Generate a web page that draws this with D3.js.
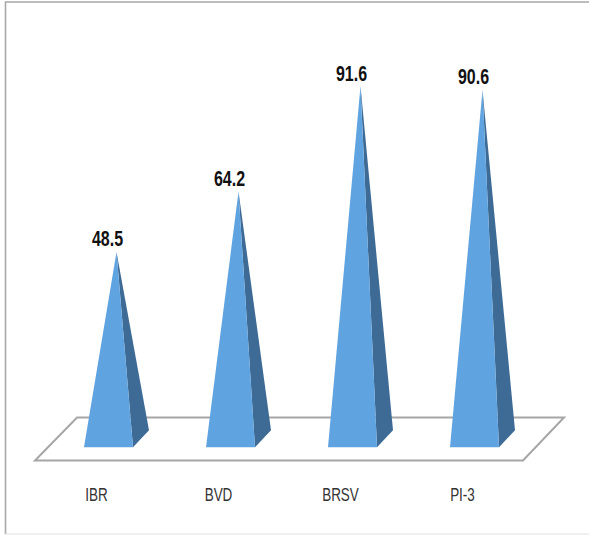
<!DOCTYPE html>
<html>
<head>
<meta charset="utf-8">
<script src="https://cdn.jsdelivr.net/npm/d3@7"></script>
<style>
html, body { margin: 0; padding: 0; background: #fff; }
svg { display: block; }
.tick text { font-family: "Liberation Sans", sans-serif; font-size: 19px; fill: #333; }
.value { font-family: "Liberation Sans", sans-serif; font-size: 22.5px; font-weight: bold; fill: #111; }
</style>
</head>
<body>
<svg></svg>
<script>
// chart data
var categories = ["IBR", "BVD", "BRSV", "PI-3"];
var values = [48.5, 64.2, 91.6, 90.6];

// basic settings
var svgWidth = 589, svgHeight = 535;
var base = 438.7, depthY = 8.5;

var svg = d3.select("svg")
	.attr("width", svgWidth)
	.attr("height", svgHeight);

// x positions of the pyramid tips
var x = d3.scalePoint()
	.domain(categories)
	.range([116.5, 482.5]);

var y = d3.scaleLinear()
	.domain([0, 100])
	.range([base, base - 385]);

// outer frame
svg.append("path")
	.attr("d", "M589,2H5.5V534")
	.attr("fill", "none")
	.attr("stroke", "#a8a8a8")
	.attr("stroke-width", 1.6);
svg.append("path")
	.attr("d", "M5.5,534H589")
	.attr("fill", "none")
	.attr("stroke", "#e2e2e2")
	.attr("stroke-width", 1.2);

// floor
var floor = [[35, 460.5], [523, 460.5], [564, 417.5], [77, 417.5]];
svg.append("polygon")
	.attr("points", floor.join(" "))
	.attr("fill", "#fff")
	.attr("stroke", "#a6a6a6")
	.attr("stroke-width", 2);

var bar = svg.selectAll("g.bar")
	.data(categories)
	.enter()
	.append("g")
	.attr("class", "bar");

// shaded right side
bar.append("polygon")
	.attr("fill", "#3e6b95")
	.attr("points", function(d, i) {
		var cx = x(d), top = y(values[i]);
		return [[cx, top], [cx + 32.5, base - depthY], [cx + 16.5, base + depthY]].join(" ");
	});

// front side
bar.append("polygon")
	.attr("fill", "#5fa3e0")
	.attr("points", function(d, i) {
		var cx = x(d), top = y(values[i]);
		return [[cx, top], [cx + 16.5, base + depthY], [cx - 32.5, base + depthY]].join(" ");
	});

// value labels, squeezed to look like a narrow face
bar.append("text")
	.attr("class", "value")
	.attr("text-anchor", "middle")
	.attr("transform", function(d, i) {
		return "translate(" + (x(d) - 9) + "," + (y(values[i]) - 5.5) + ") scale(0.71,1)";
	})
	.text(function(d, i) { return values[i]; });

// category axis, labels sit left of the pyramid tips
var xAxis = d3.axisBottom(x).tickSize(0);
var xAxisEle = svg.append("g")
	.attr("transform", "translate(-20.5,484)")
	.call(xAxis);
xAxisEle.select(".domain").remove();
xAxisEle.selectAll("text")
	.attr("transform", "scale(0.71,1)");
</script>
</body>
</html>
